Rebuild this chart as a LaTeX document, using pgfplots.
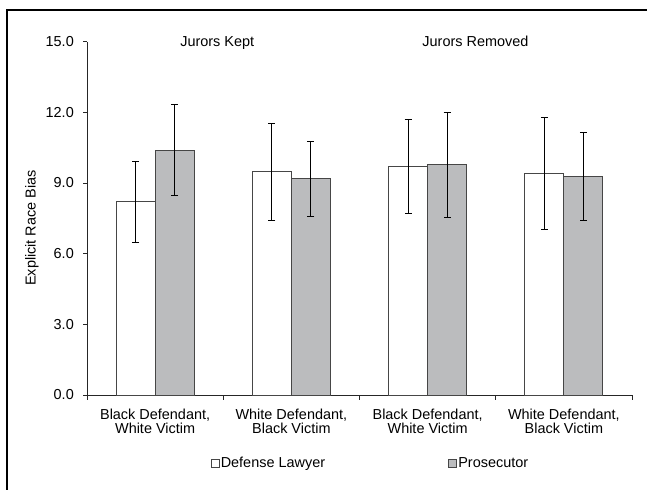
\documentclass[border=0pt]{standalone}
\usepackage{fontspec}
\setmainfont{Liberation Sans}
\usepackage{pgfplots}
\pgfplotsset{compat=1.18}
\definecolor{barfill}{RGB}{187,188,190}
\definecolor{barline}{RGB}{70,70,70}
\begin{document}
\begin{tikzpicture}[every node/.style={font=\fontsize{14.5}{14.3}\selectfont}]
\begin{axis}[
  at={(0,0)}, anchor=south west,
  scale only axis, width=545bp, height=353.3bp,
  xmin=-0.5, xmax=3.5, ymin=0, ymax=15,
  axis x line*=bottom, axis y line*=left,
  axis line style={-, black!85, line width=0.8bp},
  ytick={0,3,6,9,12,15},
  yticklabel style={/pgf/number format/fixed, /pgf/number format/fixed zerofill, /pgf/number format/precision=1, inner sep=0pt, xshift=-9.5bp},
  /pgf/number format/assume math mode=true,
  xtick={0,1,2,3},
  xticklabels={{Black Defendant,\\White Victim},{White Defendant,\\Black Victim},{Black Defendant,\\White Victim},{White Defendant,\\Black Victim}},
  xticklabel style={align=center, inner sep=0pt, yshift=-10bp},
  major x tick style={draw=none},
  minor xtick={-0.5,0.5,1.5,2.5,3.5},
  tick align=outside, major tick length=3.5bp, minor tick length=4.5bp,
  tick style={black!85, line width=0.8bp},
  ylabel={Explicit Race Bias},
  ylabel style={at={(axis description cs:-0.1009,0.4727)}, anchor=center, inner sep=0pt},
  ybar=0pt, bar width=39bp,
  clip=false,
  legend columns=2,
  legend style={draw=none, at={(0.5195,-0.1925)}, anchor=center, inner sep=0pt,
    nodes={inner sep=1.5bp, anchor=west},
    /tikz/every even column/.append style={column sep=121.5bp}},
  legend image code/.code={\draw[#1, line width=0.7bp] (0bp,-4bp) rectangle (8bp,4bp);},
  error bars/error bar style={black, line width=0.9bp},
  error bars/error mark options={rotate=90, mark size=3.5bp, line width=0.9bp},
]
\addplot[fill=white, draw=barline, line width=0.8bp,
  error bars/.cd, y dir=both, y explicit]
  table[x=x, y=y, y error=e] {
x y e
0 8.20 1.71
1 9.48 2.05
2 9.71 2.00
3 9.40 2.39
};
\addlegendentry{Defense Lawyer}
\addplot[fill=barfill, draw=barline, line width=0.8bp,
  error bars/.cd, y dir=both, y explicit]
  table[x=x, y=y, y error=e] {
x y e
0 10.39 1.93
1 9.18 1.59
2 9.77 2.24
3 9.29 1.86
};
\addlegendentry{Prosecutor}
\node[anchor=base] at (axis cs:0.456,14.78) {Jurors Kept};
\node[anchor=base] at (axis cs:2.351,14.78) {Jurors Removed};
\end{axis}
\draw[line width=1.2bp] (-80bp,-95bp) -- (-80bp,385bp) -- (560bp,385bp);
\pgfresetboundingbox
\useasboundingbox (-87bp,-95bp) rectangle (560bp,395bp);
\end{tikzpicture}
\end{document}
